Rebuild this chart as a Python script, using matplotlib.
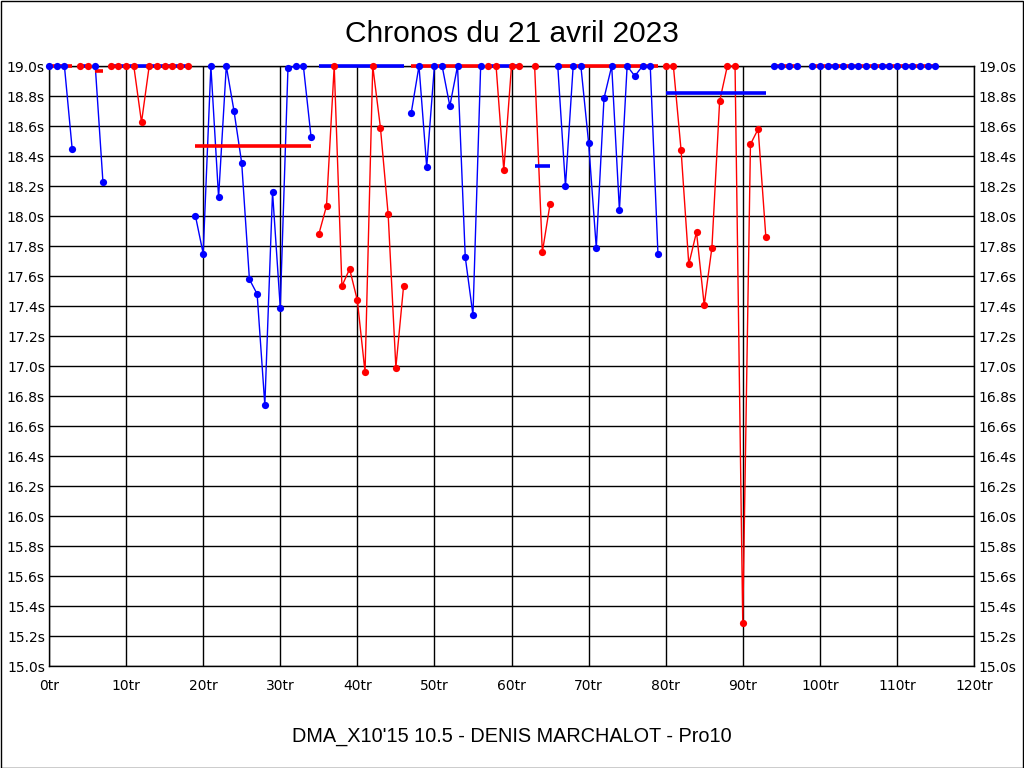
import matplotlib
matplotlib.use("Agg")
import matplotlib.pyplot as plt
from matplotlib.patches import Rectangle
import numpy as np

# ---- data: lap segments (start lap, lap times, colour) ----
segment_starts = [0, 4, 6, 8, 19, 35, 47, 57, 63, 66, 80, 94, 99]
segment_times = [
    [19.0, 19.0, 19.0, 18.45],
    [19.0, 19.0],
    [19.0, 18.225],
    [19.0, 19.0, 19.0, 19.0, 18.625, 19.0, 19.0, 19.0, 19.0, 19.0, 19.0],
    [18.0, 17.75, 19.0, 18.125, 19.0, 18.70, 18.353, 17.578, 17.48, 16.74,
     18.16, 17.39, 18.985, 19.0, 19.0, 18.525],
    [17.878, 18.067, 19.0, 17.533, 17.647, 17.438, 16.958, 19.0, 18.587,
     18.01, 16.99, 17.533],
    [18.69, 19.0, 18.327, 19.0, 19.0, 18.733, 19.0, 17.727, 17.34, 19.0],
    [19.0, 19.0, 18.305, 19.0, 19.0],
    [19.0, 17.758, 18.08],
    [19.0, 18.198, 19.0, 19.0, 18.49, 17.787, 18.785, 19.0, 18.038, 19.0,
     18.933, 19.0, 19.0, 17.745],
    [19.0, 19.0, 18.438, 17.678, 17.893, 17.405, 17.79, 18.765, 19.0, 19.0,
     15.287, 18.478, 18.58, 17.858],
    [19.0, 19.0, 19.0, 19.0],
    [19.0] * 17,
]
segment_colors = ["blue", "red", "blue", "red", "blue", "red", "blue", "red",
                  "red", "blue", "red", "blue", "blue"]

# ---- data: reference bars ----
bar_starts = [0, 4, 6, 8, 19, 35, 47, 57, 63, 66, 80, 94, 99]
bar_ends = [3, 5, 7, 18, 34, 46, 56, 61, 65, 79, 93, 97, 115]
bar_values = [19.0, 19.0, 18.97, 19.0, 18.47, 19.0, 19.0, 19.0, 18.333, 19.0,
              18.82, 19.0, 19.0]
bar_colors = ["red", "blue", "red", "blue", "red", "blue", "red", "blue",
              "blue", "red", "blue", "red", "red"]

x_ticks = list(range(0, 121, 10))
x_tick_labels = [f"{v}tr" for v in x_ticks]
y_ticks = [15.0 + 0.2 * i for i in range(21)]
y_tick_labels = [f"{v:.1f}s" for v in y_ticks]

title = "Chronos du 21 avril 2023"
subtitle = "DMA_X10'15 10.5 - DENIS MARCHALOT - Pro10"

col = {"blue": "#0000FF", "red": "#FF0000"}

fig = plt.figure(figsize=(10.24, 7.68), dpi=100)
fig.patch.set_facecolor("white")
ax = fig.add_axes([49 / 1024, 102 / 768, 925 / 1024, 600 / 768])

ax.set_xlim(0, 120)
ax.set_ylim(15.0, 19.0)
ax.set_xticks(x_ticks)
ax.set_xticklabels(x_tick_labels)
ax.set_yticks(y_ticks)
ax.set_yticklabels(y_tick_labels)
ax.grid(True, color="black", linewidth=1.0)
ax.set_axisbelow(True)
ax.tick_params(axis="both", length=0, labelsize=10, colors="black")
ax.tick_params(axis="y", labelright=True, pad=3)
ax.tick_params(axis="x", pad=9)
for lab in ax.get_xticklabels() + ax.get_yticklabels():
    lab.set_family("DejaVu Sans")
for s in ax.spines.values():
    s.set_color("black")
    s.set_linewidth(1.0)

# lines
for start, times, c in zip(segment_starts, segment_times, segment_colors):
    xs = np.arange(start, start + len(times))
    ax.plot(xs, times, color=col[c], linewidth=1.0, zorder=3, clip_on=False)

# bars
for x0, x1, v, c in zip(bar_starts, bar_ends, bar_values, bar_colors):
    ax.plot([x0, x1], [v, v], color=col[c], linewidth=2.6,
            solid_capstyle="butt", zorder=4, clip_on=False)

# markers
for start, times, c in zip(segment_starts, segment_times, segment_colors):
    xs = np.arange(start, start + len(times))
    ax.plot(xs, times, linestyle="none", marker="o", markersize=5.2,
            color=col[c], markeredgewidth=0, zorder=5, clip_on=False)

fig.text(0.5, 1 - 34 / 768, title, ha="center", va="center", fontsize=21.5,
         family="Liberation Sans")
fig.text(0.5, 1 - 736 / 768, subtitle, ha="center", va="center",
         fontsize=14.3, family="Liberation Sans")

fig.patches.append(Rectangle((0.5 / 1024, 0.5 / 768), 1 - 1.5 / 1024,
                             1 - 1.5 / 768, transform=fig.transFigure,
                             fill=False, edgecolor="black", linewidth=1.0))

fig.savefig("out.png", dpi=100, facecolor="white")
